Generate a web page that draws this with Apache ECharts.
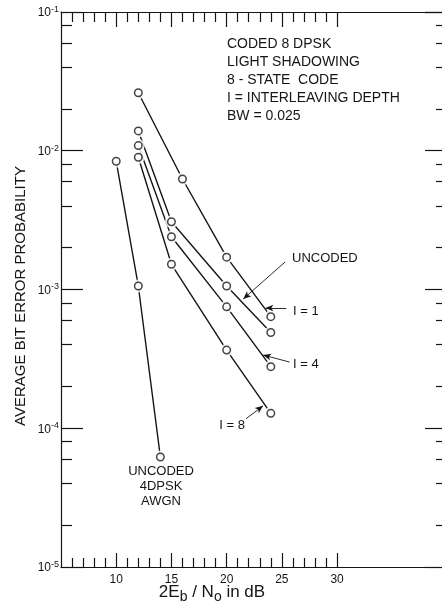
<!DOCTYPE html>
<html>
<head>
<meta charset="utf-8">
<script src="https://cdn.jsdelivr.net/npm/echarts@6/dist/echarts.min.js"></script>
<style>
html, body { margin: 0; padding: 0; background: #fff; }
#chart { width: 442px; height: 606px; }
</style>
</head>
<body>
<div id="chart"></div>
<script>
// 2Eb/No in dB where each curve was measured
var snrCoded = [12, 15, 20, 24];
var snrTop = [12, 16, 20, 24];
var snrAwgn = [10, 12, 14];

// average bit error probability
var berI1 = [2.62e-2, 6.26e-3, 1.71e-3, 6.37e-4];
var berUncoded = [1.39e-2, 3.08e-3, 1.06e-3, 4.9e-4];
var berI4 = [1.09e-2, 2.4e-3, 7.5e-4, 2.78e-4];
var berI8 = [8.97e-3, 1.52e-3, 3.66e-4, 1.28e-4];
var berAwgn = [8.4e-3, 1.06e-3, 6.2e-5];

// tick positions
var xMajorTicks = [10, 15, 20, 25, 30];
var xMinorTicks = [6, 7, 8, 9, 11, 12, 13, 14, 16, 17, 18, 19, 21, 22, 23, 24, 26, 27, 28, 29];
var yMinorTicks = [2e-5, 4e-5, 6e-5, 8e-5, 2e-4, 4e-4, 6e-4, 8e-4,
                   2e-3, 4e-3, 6e-3, 8e-3, 2e-2, 4e-2, 6e-2, 8e-2];

var ink = "#151515";
var font = '"Liberation Sans", Arial, sans-serif';

var curves = [
  { name: "I = 1", x: snrTop, y: berI1 },
  { name: "UNCODED", x: snrCoded, y: berUncoded },
  { name: "I = 4", x: snrCoded, y: berI4 },
  { name: "I = 8", x: snrCoded, y: berI8 },
  { name: "UNCODED 4DPSK AWGN", x: snrAwgn, y: berAwgn },
];

function zip(xs, ys) {
  return xs.map(function (v, i) { return [v, ys[i]]; });
}

var allPoints = [];
curves.forEach(function (c) { allPoints = allPoints.concat(zip(c.x, c.y)); });

// little arrows from the labels to the curves (data coords)
var arrows = {
  "UNCODED": [[25.3, 1.58e-3], [21.5, 8.55e-4]],
  "I = 1": [[25.4, 7.36e-4], [23.5, 7.36e-4]],
  "I = 4": [[25.7, 3.0e-4], [23.3, 3.37e-4]],
  "I = 8": [[21.75, 1.17e-4], [23.3, 1.45e-4]],
};

var series = curves.map(function (c) {
  var s = {
    name: c.name,
    type: "line",
    data: zip(c.x, c.y),
    showSymbol: false,
    lineStyle: { color: ink, width: 1.4 },
    z: 2,
    silent: true,
  };
  if (arrows[c.name]) {
    var a = arrows[c.name];
    s.markLine = {
      silent: true,
      symbol: ["none", "arrow"],
      symbolSize: [5, 8],
      label: { show: false },
      lineStyle: { color: ink, width: 0.9, type: "solid" },
      data: [[{ coord: a[0] }, { coord: a[1] }]],
    };
  }
  return s;
});

// white halo so the lines stop short of the circles
series.push({
  type: "scatter",
  data: allPoints,
  symbol: "circle",
  symbolSize: 13,
  itemStyle: { color: "#fff" },
  z: 3,
  silent: true,
});
series.push({
  type: "scatter",
  data: allPoints,
  symbol: "circle",
  symbolSize: 7.5,
  itemStyle: { color: "#fff", borderColor: ink, borderWidth: 1.5 },
  z: 4,
  silent: true,
});

function xAxisPart(pos, ticks, len, line, labels) {
  return {
    type: "value",
    position: pos,
    min: 5,
    max: 39.5,
    axisLine: { show: line, lineStyle: { color: ink, width: 1.2 } },
    axisTick: { show: true, inside: true, length: len, customValues: ticks, lineStyle: { color: ink, width: 1.2 } },
    axisLabel: labels
      ? { show: true, customValues: ticks, color: ink, fontFamily: font, fontSize: 12, margin: 7 }
      : { show: false },
    splitLine: { show: false },
  };
}

function yAxisPart(pos, ticks, len, line, labels) {
  var ax = {
    type: "log",
    logBase: 10,
    position: pos,
    min: 1e-5,
    max: 1e-1,
    axisLine: { show: line, lineStyle: { color: ink, width: 1.2 } },
    axisTick: { show: true, inside: true, length: len, lineStyle: { color: ink, width: 1.2 } },
    axisLabel: { show: false },
    splitLine: { show: false },
  };
  if (ticks) ax.axisTick.customValues = ticks;
  if (labels) {
    ax.axisLabel = {
      show: true,
      margin: 2,
      formatter: function (v) {
        var e = Math.round(Math.log10(v));
        return "{b|10}{s|-" + Math.abs(e) + "}";
      },
      rich: {
        b: { fontFamily: font, fontSize: 12, color: ink, lineHeight: 14, verticalAlign: "bottom", padding: [6, 0, 0, 0] },
        s: { fontFamily: font, fontSize: 9, color: ink, lineHeight: 9, verticalAlign: "top" },
      },
    };
  }
  return ax;
}

var chart = echarts.init(document.getElementById("chart"));

var option = {
  backgroundColor: "#fff",
  animation: false,
  grid: { left: 61, top: 12, right: 0, bottom: 39 },
  xAxis: [
    xAxisPart("bottom", xMajorTicks, 14, true, true),
    xAxisPart("bottom", xMinorTicks, 9, false, false),
    xAxisPart("top", xMajorTicks, 15, true, false),
    xAxisPart("top", xMinorTicks, 10, false, false),
  ],
  yAxis: [
    yAxisPart("left", null, 22, true, true),
    yAxisPart("left", yMinorTicks, 11, false, false),
    yAxisPart("right", null, 17, false, false),
    yAxisPart("right", yMinorTicks, 6, false, false),
  ],
  series: series,
  graphic: [
    {
      type: "text", x: 227, y: 35,
      style: {
        text: "CODED 8 DPSK\nLIGHT SHADOWING\n8 - STATE  CODE\nI = INTERLEAVING DEPTH\nBW = 0.025",
        font: "14px " + font, fill: ink, lineHeight: 18, verticalAlign: "top",
      },
    },
    { type: "text", x: 292, y: 258, style: { text: "UNCODED", font: "13px " + font, fill: ink, verticalAlign: "middle" } },
    { type: "text", x: 293, y: 311, style: { text: "I = 1", font: "13px " + font, fill: ink, verticalAlign: "middle" } },
    { type: "text", x: 293, y: 364, style: { text: "I = 4", font: "13px " + font, fill: ink, verticalAlign: "middle" } },
    { type: "text", x: 245, y: 425, style: { text: "I = 8", font: "13px " + font, fill: ink, align: "right", verticalAlign: "middle" } },
    {
      type: "text", x: 161, y: 464,
      style: { text: "UNCODED\n4DPSK\nAWGN", font: "13px " + font, fill: ink, align: "center", verticalAlign: "top", lineHeight: 15 },
    },
    {
      type: "text", x: 21, y: 296, rotation: Math.PI / 2,
      style: { text: "AVERAGE BIT ERROR PROBABILITY", font: "15px " + font, fill: ink, align: "center", verticalAlign: "middle" },
    },
    {
      type: "text", x: 212, y: 592,
      style: {
        text: "2E{s|b} / N{s|o} in dB",
        font: "17px " + font, fill: ink, align: "center", verticalAlign: "middle",
        rich: { s: { font: "14px " + font, fill: ink, padding: [10, 0, 0, 0] } },
      },
    },
  ],
};

chart.setOption(option);
</script>
</body>
</html>
